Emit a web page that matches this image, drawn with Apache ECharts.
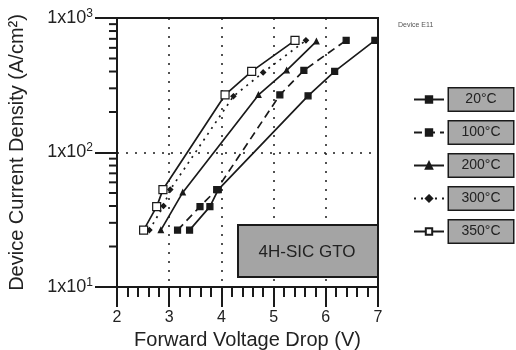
<!DOCTYPE html>
<html>
<head>
<meta charset="utf-8">
<script src="https://cdn.jsdelivr.net/npm/echarts@6/dist/echarts.min.js"></script>
<style>
  html, body { margin: 0; padding: 0; background: #fff; }
  #chart { width: 516px; height: 350px; }
</style>
</head>
<body>
<div id="chart"></div>
<script>
// data (x = forward voltage drop, y = current density)
var names = ['20\u00B0C', '100\u00B0C', '200\u00B0C', '300\u00B0C', '350\u00B0C'];
var v20 = [[3.39, 26.5], [3.78, 39.6], [3.94, 53], [5.66, 264], [6.17, 401], [6.94, 682]];
var v100 = [[3.16, 26.5], [3.59, 39.6], [3.91, 53], [5.12, 268], [5.58, 408], [6.39, 682]];
var v200 = [[2.84, 26.5], [3.26, 50.5], [4.71, 268], [5.25, 408], [5.82, 670]];
var v300 = [[2.62, 26.5], [2.89, 40], [3.02, 53], [4.23, 262], [4.80, 394], [5.62, 682]];
var v350 = [[2.51, 26.5], [2.76, 39.6], [2.88, 53], [4.07, 268], [4.58, 401], [5.41, 682]];
// log minor ticks on the y axis
var yMinor = [20, 30, 40, 50, 60, 70, 80, 90, 200, 300, 400, 500, 600, 700, 800, 900];

var ink = '#1a1a1a';
var font = 'Liberation Sans';

function mk(name, data, lineType, symbol, size, fill) {
    return {
        name: name,
        type: 'line',
        data: data,
        symbol: symbol,
        symbolSize: size,
        showAllSymbol: true,
        lineStyle: { color: ink, width: 1.7, type: lineType },
        itemStyle: { color: fill, borderColor: ink, borderWidth: 1.2 },
        z: 3
    };
}

var myChart = echarts.init(document.getElementById('chart'));

var option = {
    animation: false,
    textStyle: { fontFamily: font },
    grid: {
        left: 117, right: 138, top: 18, bottom: 63,
        outerBoundsMode: 'none', containLabel: false,
        show: true, borderColor: ink, borderWidth: 2
    },
    legend: {
        orient: 'vertical',
        left: 408,
        top: 82,
        itemGap: 8,
        itemWidth: 30,
        itemHeight: 8,
        data: names,
        formatter: function (n) { return '{b|' + n + '}'; },
        textStyle: {
            fontFamily: font,
            rich: {
                b: {
                    fontFamily: font,
                    fontSize: 14,
                    color: '#222',
                    backgroundColor: '#a9a9a9',
                    borderColor: ink,
                    borderWidth: 1.5,
                    padding: [4, 6],
                    width: 52,
                    align: 'center'
                }
            }
        }
    },
    xAxis: {
        type: 'value',
        min: 2,
        max: 7,
        interval: 1,
        axisLine: { lineStyle: { color: ink, width: 2 } },
        axisTick: { length: 20, lineStyle: { color: ink, width: 2 } },
        minorTick: { show: true, splitNumber: 5, length: 10, lineStyle: { color: ink, width: 2 } },
        axisLabel: { color: '#222', fontSize: 16, margin: 23, fontFamily: font },
        splitLine: { show: true, showMinLine: false, showMaxLine: false,
            lineStyle: { color: ink, width: 1.5, type: [2, 7] } },
        name: 'Forward Voltage Drop (V)',
        nameLocation: 'middle',
        nameGap: 40,
        nameTextStyle: { color: '#222', fontSize: 20, fontFamily: font }
    },
    yAxis: {
        type: 'log',
        logBase: 10,
        min: 10,
        max: 1000,
        axisLine: { lineStyle: { color: ink, width: 2 } },
        axisTick: { length: 22, lineStyle: { color: ink, width: 2 } },
        minorTick: { show: false },
        axisLabel: {
            margin: 24,
            fontFamily: font,
            formatter: function (v) {
                return '1x10{s|' + Math.round(Math.log10(v)) + '}';
            },
            rich: {
                s: { fontSize: 12, verticalAlign: 'top', color: '#222', padding: [0, 0, 9, 0] }
            },
            fontSize: 18,
            color: '#222'
        },
        splitLine: { show: true, showMinLine: false, showMaxLine: false,
            lineStyle: { color: ink, width: 1.5, type: [2, 7] } },
        name: 'Device Current Density (A/cm\u00B2)',
        nameLocation: 'middle',
        nameGap: 90,
        nameTextStyle: { color: '#222', fontSize: 20, fontFamily: font }
    },
    graphic: [
        {
            type: 'rect', left: 237, top: 224, z: 100,
            shape: { width: 140, height: 52 },
            style: { fill: '#a4a4a4', stroke: ink, lineWidth: 2 }
        },
        {
            type: 'text', x: 307, y: 252, z: 101,
            style: { text: '4H-SIC GTO', fill: '#222', font: '17px "Liberation Sans"',
                     align: 'center', verticalAlign: 'middle' }
        },
        {
            type: 'text', left: 398, top: 22, z: 101,
            style: { text: 'Device E11', fill: '#555', font: '7px "Liberation Sans"' }
        }
    ],
    series: [
        mk(names[0], v20, 'solid', 'rect', 6, ink),
        mk(names[1], v100, [8, 5], 'rect', 6, ink),
        mk(names[2], v200, 'solid', 'triangle', 5, ink),
        mk(names[3], v300, [2, 5], 'diamond', 5, ink),
        mk(names[4], v350, 'solid', 'rect', 8, '#fff'),
        {
            type: 'custom',
            name: 'minor',
            data: yMinor.map(function (v) { return [2, v]; }),
            renderItem: function (params, api) {
                var p = api.coord([api.value(0), api.value(1)]);
                return {
                    type: 'line',
                    shape: { x1: p[0] - 8, y1: p[1], x2: p[0], y2: p[1] },
                    style: { stroke: ink, lineWidth: 2 }
                };
            },
            clip: false,
            silent: true,
            z: 4
        }
    ]
};

myChart.setOption(option);
</script>
</body>
</html>
